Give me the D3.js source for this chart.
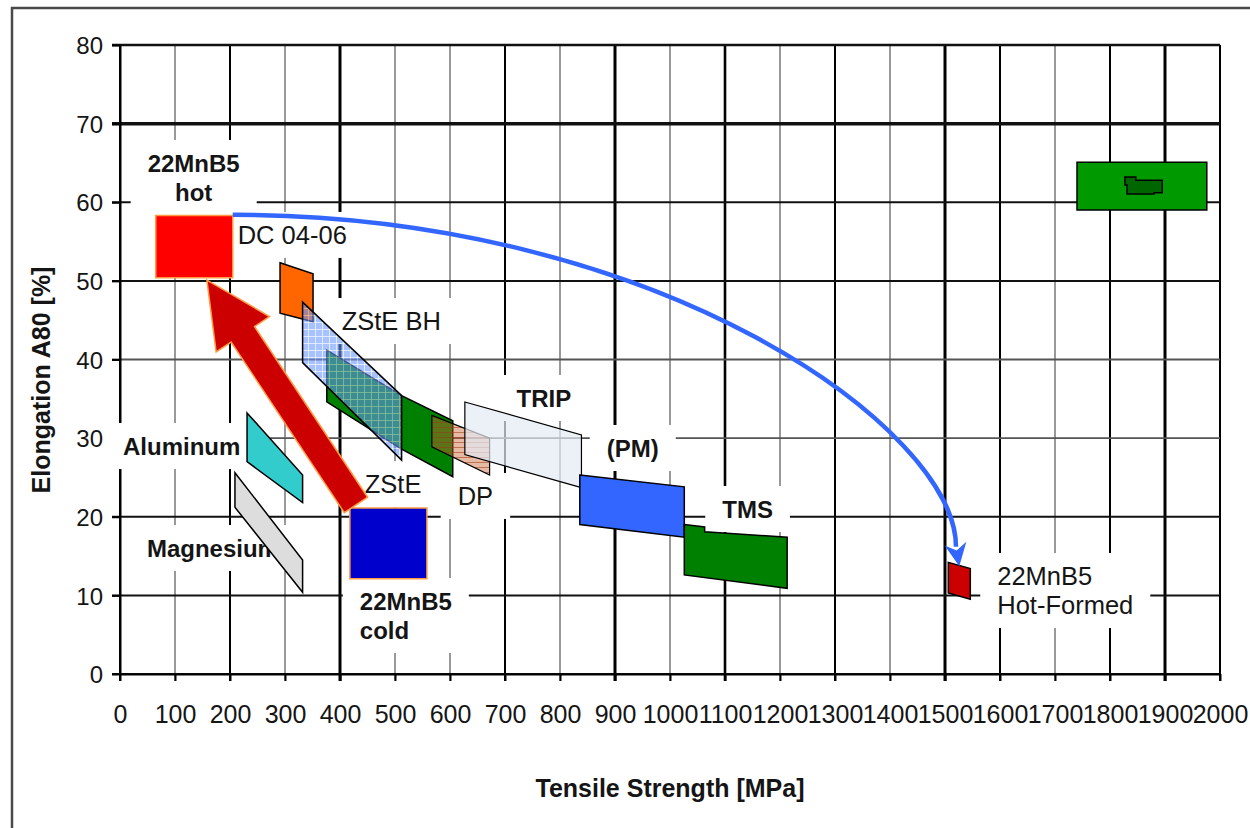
<!DOCTYPE html>
<html><head><meta charset="utf-8">
<script src="https://cdn.jsdelivr.net/npm/d3@7"></script>
<style>
body{margin:0;background:#fff}
svg{display:block}
text{font-family:"Liberation Sans",Arial,Helvetica,sans-serif;fill:#151515}
</style>
</head><body>
<svg id="chart" width="1250" height="828"></svg>
<script>
// ---------- data ----------
const xTickValues = [0,100,200,300,400,500,600,700,800,900,1000,1100,1200,1300,1400,1500,1600,1700,1800,1900,2000];
const yTickValues = [0,10,20,30,40,50,60,70,80];

// material regions: [tensile MPa, elongation %]
const magnesium = [[209,25.6],[332,14.5],[332,10.4],[209,21.2]];
const aluminum  = [[231,33.2],[332,25.3],[332,21.8],[231,27.0]];
const dc0406    = [[291,52.3],[351,50.9],[351,44.8],[291,45.9]];
const zste      = [[376,41.2],[512,35.4],[605,32.2],[605,25.1],[512,28.6],[376,34.6]];
const zsteBH    = [[332,47.3],[512,35.4],[512,27.2],[332,39.6]];
const dp        = [[567,32.9],[672,30.0],[672,25.3],[567,28.9]];
const trip      = [[627,34.6],[839,30.4],[839,23.7],[627,27.9]];
const pm        = [[836,25.3],[1026,23.8],[1026,17.4],[836,19.0]];
const tms       = [[1026,19.0],[1063,18.7],[1063,18.1],[1213,17.4],[1213,10.9],[1026,12.6]];
const hotFormed = [[1506,14.2],[1546,13.4],[1546,9.5],[1506,10.3]];
const topRight  = [[1740,65.1],[1976,65.1],[1976,59.0],[1740,59.0]];
const topRightIcon = [[1827,63.2],[1847,63.2],[1847,62.8],[1895,62.8],[1895,61.2],[1880,61.2],[1880,61.05],[1831,61.05],[1831,62.2],[1827,62.2]];
const hot22MnB5  = [[65,58.3],[205,58.3],[205,50.4],[65,50.4]];
const cold22MnB5 = [[418,21.1],[558,21.1],[558,12.1],[418,12.1]];
const redArrow  = [[429,21.5],[158,50.1]];           // tail -> tip
const blueCurve = [[205,58.4],[985,58.4],[1520,31.0],[1520,16.2]];
const blueTip   = [1526,13.7];

const labelLines = [["22MnB5","hot"],["DC 04-06"],["ZStE BH"],["Aluminum"],["Magnesium"],["ZStE"],["DP"],["TRIP"],["(PM)"],["TMS"],["22MnB5","cold"],["22MnB5","Hot-Formed"]];
const labelAt    = [[134,63.85],[214,54.7],[403,43.75],[5.4,27.85],[49,14.88],[445,23.0],[614,21.5],[721,33.96],[885,27.6],[1095,19.84],[436,8.14],[1595,11.32]];
const labelBold  = [true,false,false,true,true,false,false,true,true,true,true,false];
const labelMid   = [true,false,false,false,false,false,false,false,false,false,false,false];

// ---------- drawing ----------
const svg = d3.select("#chart");
const x = d3.scaleLinear().domain([0,2000]).range([120,1220]);
const y = d3.scaleLinear().domain([0,80]).range([674,45]);
const pts = p => p.map(d => [x(d[0]), y(d[1])].join(",")).join(" ");

// outer frame
svg.append("rect").attr("x",12).attr("y",8).attr("width",1260).attr("height",840)
  .attr("fill","none").attr("stroke","#4a4a4a").attr("stroke-width",2.5);

// defs / patterns
const defs = svg.append("defs");
const pg = defs.append("pattern").attr("id","gridpat").attr("patternUnits","userSpaceOnUse")
  .attr("width",7).attr("height",7);
pg.append("rect").attr("width",7).attr("height",7).attr("fill","rgb(105,149,254)");
pg.append("path").attr("d","M0 0.5H7M0.5 0V7").attr("stroke","rgba(235,242,255,0.75)").attr("stroke-width",1);
const ph = defs.append("pattern").attr("id","hatchpat").attr("patternUnits","userSpaceOnUse")
  .attr("width",6).attr("height",5);
ph.append("path").attr("d","M0 2.5H6").attr("stroke","rgba(150,60,20,0.55)").attr("stroke-width",1);

// grid
const vWeight = [2,1.5,2,1.5,3,1.5,1.5,2,1.5,3,1.5,2.6,1.5,2,1.5,3,2,1.5,2,3,2];
const hWeight = [2,2,2,1.8,1.8,2,2,3.5,2.5];
const grid = svg.append("g");
grid.selectAll("line.v").data(xTickValues).join("line").attr("class","v")
  .attr("x1",d=>x(d)).attr("x2",d=>x(d)).attr("y1",y(80)).attr("y2",y(0)+7)
  .attr("stroke",(d,i)=>vWeight[i]>=2?"#000":"#777").attr("stroke-width",(d,i)=>vWeight[i]);
grid.selectAll("line.h").data(yTickValues).join("line").attr("class","h")
  .attr("x1",x(0)-8).attr("x2",x(2000)).attr("y1",d=>y(d)).attr("y2",d=>y(d))
  .attr("stroke",(d,i)=>hWeight[i]>=2?"#111":"#555").attr("stroke-width",(d,i)=>hWeight[i]);

// axes (labels)
const ax = svg.append("g").attr("transform",`translate(0,${y(0)})`)
  .call(d3.axisBottom(x).tickValues(xTickValues).tickSize(7).tickPadding(24).tickSizeOuter(0).tickFormat(d3.format("d")));
const ay = svg.append("g").attr("transform",`translate(${x(0)},0)`)
  .call(d3.axisLeft(y).tickValues(yTickValues).tickSize(8).tickPadding(9).tickSizeOuter(0));
[ax,ay].forEach(a=>{
  a.select(".domain").attr("stroke","#000").attr("stroke-width",2);
  a.selectAll(".tick line").attr("stroke","#000").attr("stroke-width",2);
  a.selectAll(".tick text").attr("font-size",24).attr("font-family","Liberation Sans, Arial, sans-serif").attr("fill","#1a1a1a");
});
ax.selectAll(".tick text").attr("font-size",25);
ay.selectAll(".tick text").attr("dy","0.36em");

// axis titles
svg.append("text").attr("x",670).attr("y",797).attr("text-anchor","middle")
  .attr("font-size",25).attr("font-weight","bold").text("Tensile Strength [MPa]");
svg.append("text").attr("transform","translate(50,380) rotate(-90)").attr("text-anchor","middle")
  .attr("font-size",25).attr("font-weight","bold").text("Elongation A80 [%]");

// labels with white boxes
const labelLayer = svg.append("g");
labelLines.forEach((lines,i)=>{
  const g = labelLayer.append("g");
  const box = g.append("rect").attr("fill","#fff");
  const px = x(labelAt[i][0]), py = y(labelAt[i][1]);
  const t = g.append("text").attr("font-size",labelBold[i]?24:25.5)
    .attr("font-weight",labelBold[i]?"bold":"normal")
    .attr("text-anchor",labelMid[i]?"middle":"start");
  lines.forEach((s,j)=>t.append("tspan").attr("x",px).attr("y",py+j*29).text(s));
  const bb = t.node().getBBox();
  box.attr("x",bb.x-17).attr("width",bb.width+34)
     .attr("y",py-32).attr("height",(lines.length-1)*29+46);
});

// shapes
const shapes = svg.append("g");
function poly(data, fill, opts={}){
  return shapes.append("polygon").attr("points",pts(data))
    .attr("fill",fill).attr("stroke",opts.stroke||"#000")
    .attr("stroke-width",opts.sw||1.5).attr("stroke-linejoin","miter")
    .attr("fill-opacity",opts.op==null?1:opts.op);
}
poly(magnesium,"#dddddd");
poly(aluminum,"#33cccc");
poly(dc0406,"#ff6600");
poly(zste,"#008000");
shapes.append("polygon").attr("points",pts(zsteBH)).attr("fill","url(#gridpat)").attr("opacity",0.58);
poly(zsteBH,"none");
shapes.append("polygon").attr("points",pts(dp)).attr("fill","rgba(204,102,51,0.45)");
shapes.append("polygon").attr("points",pts(dp)).attr("fill","url(#hatchpat)");
poly(dp,"none",{sw:1.2});
poly(trip,"#e4eaf4",{op:0.7,sw:1.2});
poly(pm,"#3366ff");
poly(tms,"#008000");
poly(hotFormed,"#cc0000");
poly(topRight,"#009900");
poly(topRightIcon,"#006600",{sw:1.5});
poly(hot22MnB5,"#ff0000",{stroke:"#ff9a40",sw:1.5});
poly(cold22MnB5,"#0000cc",{stroke:"#ff9a40",sw:1.5});

// big red arrow
(function(){
  const T=[x(redArrow[0][0]),y(redArrow[0][1])], P=[x(redArrow[1][0]),y(redArrow[1][1])];
  const L=Math.hypot(P[0]-T[0],P[1]-T[1]);
  const u=[(P[0]-T[0])/L,(P[1]-T[1])/L], n=[-u[1],u[0]];
  const sw=14, hw=32, hl=65;
  const H=[P[0]-u[0]*hl,P[1]-u[1]*hl];
  const f=(b,k)=>[b[0]+n[0]*k,b[1]+n[1]*k];
  const a=[f(T,sw),f(H,sw),f(H,hw),P,f(H,-hw),f(H,-sw),f(T,-sw)];
  svg.append("polygon").attr("points",a.map(p=>p.join(",")).join(" "))
    .attr("fill","#cc0000").attr("stroke","#ff9a40").attr("stroke-width",1.5).attr("stroke-linejoin","miter");
})();

// blue curved arrow
(function(){
  const c=blueCurve.map(d=>[x(d[0]),y(d[1])]);
  const p=d3.path();
  p.moveTo(c[0][0],c[0][1]);
  p.bezierCurveTo(c[1][0],c[1][1],c[2][0],c[2][1],c[3][0],c[3][1]);
  svg.append("path").attr("d",p.toString()).attr("fill","none").attr("stroke","#3366ff").attr("stroke-width",4.5);
  const tip=[x(blueTip[0]),y(blueTip[1])], Q=c[3];
  const L=Math.hypot(tip[0]-Q[0],tip[1]-Q[1]);
  const u=[(tip[0]-Q[0])/L,(tip[1]-Q[1])/L], n=[-u[1],u[0]];
  const B=[Q[0]-u[0]*3,Q[1]-u[1]*3];
  const h=[[B[0]+n[0]*11,B[1]+n[1]*11],tip,[B[0]-n[0]*11,B[1]-n[1]*11],[Q[0]+u[0]*4,Q[1]+u[1]*4]];
  svg.append("polygon").attr("points",h.map(q=>q.join(",")).join(" ")).attr("fill","#3366ff");
})();
</script>
</body></html>
